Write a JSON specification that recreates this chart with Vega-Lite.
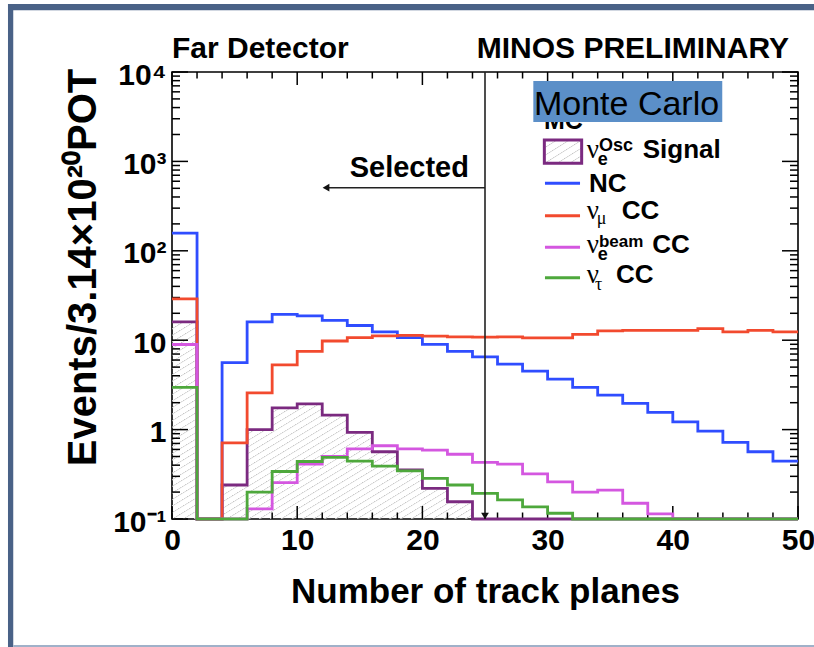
{
  "$schema": "https://vega.github.io/schema/vega-lite/v6.json",
  "width": 626,
  "height": 447,
  "autosize": "none",
  "padding": {"left": 172, "top": 72, "right": 16, "bottom": 128},
  "background": "white",
  "config": {
    "font": "Liberation Sans",
    "view": {"stroke": "#000", "strokeWidth": 1.6}
  },
  "resolve": {"axis": {"x": "independent", "y": "independent"}},
  "datasets": {
    "signal": [
      {"x": 0, "v": 16}, {"x": 2, "v": 0.1}, {"x": 4, "v": 0.24}, {"x": 6, "v": 1.0},
      {"x": 8, "v": 1.75}, {"x": 10, "v": 1.94}, {"x": 12, "v": 1.45}, {"x": 14, "v": 0.93},
      {"x": 16, "v": 0.565}, {"x": 18, "v": 0.355}, {"x": 20, "v": 0.22}, {"x": 22, "v": 0.156},
      {"x": 24, "v": 0.1}, {"x": 26, "v": 0.1}, {"x": 28, "v": 0.1}, {"x": 30, "v": 0.1},
      {"x": 32, "v": 0.1}, {"x": 34, "v": 0.1}, {"x": 36, "v": 0.1}, {"x": 38, "v": 0.1},
      {"x": 40, "v": 0.1}, {"x": 42, "v": 0.1}, {"x": 44, "v": 0.1}, {"x": 46, "v": 0.1},
      {"x": 48, "v": 0.1}, {"x": 50, "v": 0.1}
    ],
    "nc": [
      {"x": 0, "v": 158}, {"x": 2, "v": 0.1}, {"x": 4, "v": 5.6}, {"x": 6, "v": 16.0},
      {"x": 8, "v": 19.4}, {"x": 10, "v": 18.7}, {"x": 12, "v": 16.7}, {"x": 14, "v": 14.6},
      {"x": 16, "v": 12.4}, {"x": 18, "v": 10.7}, {"x": 20, "v": 9.0}, {"x": 22, "v": 7.5},
      {"x": 24, "v": 6.5}, {"x": 26, "v": 5.4}, {"x": 28, "v": 4.5}, {"x": 30, "v": 3.67},
      {"x": 32, "v": 2.96}, {"x": 34, "v": 2.43}, {"x": 36, "v": 1.96}, {"x": 38, "v": 1.56},
      {"x": 40, "v": 1.22}, {"x": 42, "v": 0.96}, {"x": 44, "v": 0.72}, {"x": 46, "v": 0.565},
      {"x": 48, "v": 0.445}, {"x": 50, "v": 0.445}
    ],
    "numu_cc": [
      {"x": 0, "v": 29}, {"x": 2, "v": 0.1}, {"x": 4, "v": 0.71}, {"x": 6, "v": 2.58},
      {"x": 8, "v": 5.3}, {"x": 10, "v": 7.5}, {"x": 12, "v": 9.8}, {"x": 14, "v": 10.7},
      {"x": 16, "v": 11.2}, {"x": 18, "v": 11.3}, {"x": 20, "v": 11.1}, {"x": 22, "v": 10.9},
      {"x": 24, "v": 10.8}, {"x": 26, "v": 10.9}, {"x": 28, "v": 10.6}, {"x": 30, "v": 10.6},
      {"x": 32, "v": 11.6}, {"x": 34, "v": 12.7}, {"x": 36, "v": 12.9}, {"x": 38, "v": 12.9},
      {"x": 40, "v": 12.9}, {"x": 42, "v": 13.5}, {"x": 44, "v": 12.4}, {"x": 46, "v": 12.9},
      {"x": 48, "v": 12.4}, {"x": 50, "v": 12.4}
    ],
    "nue_beam_cc": [
      {"x": 0, "v": 8.95}, {"x": 2, "v": 0.1}, {"x": 4, "v": 0.1}, {"x": 6, "v": 0.13},
      {"x": 8, "v": 0.255}, {"x": 10, "v": 0.41}, {"x": 12, "v": 0.5}, {"x": 14, "v": 0.61},
      {"x": 16, "v": 0.66}, {"x": 18, "v": 0.61}, {"x": 20, "v": 0.59}, {"x": 22, "v": 0.53},
      {"x": 24, "v": 0.43}, {"x": 26, "v": 0.41}, {"x": 28, "v": 0.32}, {"x": 30, "v": 0.26},
      {"x": 32, "v": 0.2}, {"x": 34, "v": 0.21}, {"x": 36, "v": 0.15}, {"x": 38, "v": 0.114},
      {"x": 40, "v": 0.1}, {"x": 42, "v": 0.1}, {"x": 44, "v": 0.1}, {"x": 46, "v": 0.1},
      {"x": 48, "v": 0.1}, {"x": 50, "v": 0.1}
    ],
    "nutau_cc": [
      {"x": 0, "v": 2.96}, {"x": 2, "v": 0.1}, {"x": 4, "v": 0.1}, {"x": 6, "v": 0.2},
      {"x": 8, "v": 0.34}, {"x": 10, "v": 0.44}, {"x": 12, "v": 0.49}, {"x": 14, "v": 0.445},
      {"x": 16, "v": 0.39}, {"x": 18, "v": 0.345}, {"x": 20, "v": 0.285}, {"x": 22, "v": 0.24},
      {"x": 24, "v": 0.193}, {"x": 26, "v": 0.164}, {"x": 28, "v": 0.137}, {"x": 30, "v": 0.116},
      {"x": 32, "v": 0.1}, {"x": 34, "v": 0.1}, {"x": 36, "v": 0.1}, {"x": 38, "v": 0.1},
      {"x": 40, "v": 0.1}, {"x": 42, "v": 0.1}, {"x": 44, "v": 0.1}, {"x": 46, "v": 0.1},
      {"x": 48, "v": 0.1}, {"x": 50, "v": 0.1}
    ],
    "planes_major": [{"x": 0}, {"x": 10}, {"x": 20}, {"x": 30}, {"x": 40}, {"x": 50}],
    "planes_minor": [
      {"x": 2}, {"x": 4}, {"x": 6}, {"x": 8}, {"x": 12}, {"x": 14}, {"x": 16}, {"x": 18},
      {"x": 22}, {"x": 24}, {"x": 26}, {"x": 28}, {"x": 32}, {"x": 34}, {"x": 36}, {"x": 38},
      {"x": 42}, {"x": 44}, {"x": 46}, {"x": 48}
    ],
    "events_major": [{"v": 0.1}, {"v": 1}, {"v": 10}, {"v": 100}, {"v": 1000}, {"v": 10000}],
    "events_minor": [
      {"v": 0.2}, {"v": 0.3}, {"v": 0.4}, {"v": 0.5}, {"v": 0.6}, {"v": 0.7}, {"v": 0.8}, {"v": 0.9},
      {"v": 2}, {"v": 3}, {"v": 4}, {"v": 5}, {"v": 6}, {"v": 7}, {"v": 8}, {"v": 9},
      {"v": 20}, {"v": 30}, {"v": 40}, {"v": 50}, {"v": 60}, {"v": 70}, {"v": 80}, {"v": 90},
      {"v": 200}, {"v": 300}, {"v": 400}, {"v": 500}, {"v": 600}, {"v": 700}, {"v": 800}, {"v": 900},
      {"v": 2000}, {"v": 3000}, {"v": 4000}, {"v": 5000}, {"v": 6000}, {"v": 7000}, {"v": 8000}, {"v": 9000}
    ]
  },
  "layer": [
    {
      "description": "Hatched fill under the oscillated nu_e signal; this layer also carries the axis labels and titles",
      "data": {"name": "signal"},
      "transform": [{"filter": "datum.x <= 26"}],
      "mark": {
        "type": "area",
        "interpolate": "step-after",
        "fill": {
          "gradient": "linear", "x1": 0, "y1": 0, "x2": 1, "y2": 1,
          "stops": [
            {"offset": 0, "color": "#c4c4c4"}, {"offset": 0.004, "color": "rgba(255,255,255,0)"}, {"offset": 0.0155, "color": "rgba(255,255,255,0)"},
            {"offset": 0.0167, "color": "#c4c4c4"}, {"offset": 0.0207, "color": "rgba(255,255,255,0)"}, {"offset": 0.0322, "color": "rgba(255,255,255,0)"},
            {"offset": 0.0333, "color": "#c4c4c4"}, {"offset": 0.0373, "color": "rgba(255,255,255,0)"}, {"offset": 0.0488, "color": "rgba(255,255,255,0)"},
            {"offset": 0.05, "color": "#c4c4c4"}, {"offset": 0.054, "color": "rgba(255,255,255,0)"}, {"offset": 0.0655, "color": "rgba(255,255,255,0)"},
            {"offset": 0.0667, "color": "#c4c4c4"}, {"offset": 0.0707, "color": "rgba(255,255,255,0)"}, {"offset": 0.0822, "color": "rgba(255,255,255,0)"},
            {"offset": 0.0833, "color": "#c4c4c4"}, {"offset": 0.0873, "color": "rgba(255,255,255,0)"}, {"offset": 0.0988, "color": "rgba(255,255,255,0)"},
            {"offset": 0.1, "color": "#c4c4c4"}, {"offset": 0.104, "color": "rgba(255,255,255,0)"}, {"offset": 0.1155, "color": "rgba(255,255,255,0)"},
            {"offset": 0.1167, "color": "#c4c4c4"}, {"offset": 0.1207, "color": "rgba(255,255,255,0)"}, {"offset": 0.1322, "color": "rgba(255,255,255,0)"},
            {"offset": 0.1333, "color": "#c4c4c4"}, {"offset": 0.1373, "color": "rgba(255,255,255,0)"}, {"offset": 0.1488, "color": "rgba(255,255,255,0)"},
            {"offset": 0.15, "color": "#c4c4c4"}, {"offset": 0.154, "color": "rgba(255,255,255,0)"}, {"offset": 0.1655, "color": "rgba(255,255,255,0)"},
            {"offset": 0.1667, "color": "#c4c4c4"}, {"offset": 0.1707, "color": "rgba(255,255,255,0)"}, {"offset": 0.1822, "color": "rgba(255,255,255,0)"},
            {"offset": 0.1833, "color": "#c4c4c4"}, {"offset": 0.1873, "color": "rgba(255,255,255,0)"}, {"offset": 0.1988, "color": "rgba(255,255,255,0)"},
            {"offset": 0.2, "color": "#c4c4c4"}, {"offset": 0.204, "color": "rgba(255,255,255,0)"}, {"offset": 0.2155, "color": "rgba(255,255,255,0)"},
            {"offset": 0.2167, "color": "#c4c4c4"}, {"offset": 0.2207, "color": "rgba(255,255,255,0)"}, {"offset": 0.2322, "color": "rgba(255,255,255,0)"},
            {"offset": 0.2333, "color": "#c4c4c4"}, {"offset": 0.2373, "color": "rgba(255,255,255,0)"}, {"offset": 0.2488, "color": "rgba(255,255,255,0)"},
            {"offset": 0.25, "color": "#c4c4c4"}, {"offset": 0.254, "color": "rgba(255,255,255,0)"}, {"offset": 0.2655, "color": "rgba(255,255,255,0)"},
            {"offset": 0.2667, "color": "#c4c4c4"}, {"offset": 0.2707, "color": "rgba(255,255,255,0)"}, {"offset": 0.2822, "color": "rgba(255,255,255,0)"},
            {"offset": 0.2833, "color": "#c4c4c4"}, {"offset": 0.2873, "color": "rgba(255,255,255,0)"}, {"offset": 0.2988, "color": "rgba(255,255,255,0)"},
            {"offset": 0.3, "color": "#c4c4c4"}, {"offset": 0.304, "color": "rgba(255,255,255,0)"}, {"offset": 0.3155, "color": "rgba(255,255,255,0)"},
            {"offset": 0.3167, "color": "#c4c4c4"}, {"offset": 0.3207, "color": "rgba(255,255,255,0)"}, {"offset": 0.3322, "color": "rgba(255,255,255,0)"},
            {"offset": 0.3333, "color": "#c4c4c4"}, {"offset": 0.3373, "color": "rgba(255,255,255,0)"}, {"offset": 0.3488, "color": "rgba(255,255,255,0)"},
            {"offset": 0.35, "color": "#c4c4c4"}, {"offset": 0.354, "color": "rgba(255,255,255,0)"}, {"offset": 0.3655, "color": "rgba(255,255,255,0)"},
            {"offset": 0.3667, "color": "#c4c4c4"}, {"offset": 0.3707, "color": "rgba(255,255,255,0)"}, {"offset": 0.3822, "color": "rgba(255,255,255,0)"},
            {"offset": 0.3833, "color": "#c4c4c4"}, {"offset": 0.3873, "color": "rgba(255,255,255,0)"}, {"offset": 0.3988, "color": "rgba(255,255,255,0)"},
            {"offset": 0.4, "color": "#c4c4c4"}, {"offset": 0.404, "color": "rgba(255,255,255,0)"}, {"offset": 0.4155, "color": "rgba(255,255,255,0)"},
            {"offset": 0.4167, "color": "#c4c4c4"}, {"offset": 0.4207, "color": "rgba(255,255,255,0)"}, {"offset": 0.4322, "color": "rgba(255,255,255,0)"},
            {"offset": 0.4333, "color": "#c4c4c4"}, {"offset": 0.4373, "color": "rgba(255,255,255,0)"}, {"offset": 0.4488, "color": "rgba(255,255,255,0)"},
            {"offset": 0.45, "color": "#c4c4c4"}, {"offset": 0.454, "color": "rgba(255,255,255,0)"}, {"offset": 0.4655, "color": "rgba(255,255,255,0)"},
            {"offset": 0.4667, "color": "#c4c4c4"}, {"offset": 0.4707, "color": "rgba(255,255,255,0)"}, {"offset": 0.4822, "color": "rgba(255,255,255,0)"},
            {"offset": 0.4833, "color": "#c4c4c4"}, {"offset": 0.4873, "color": "rgba(255,255,255,0)"}, {"offset": 0.4988, "color": "rgba(255,255,255,0)"},
            {"offset": 0.5, "color": "#c4c4c4"}, {"offset": 0.504, "color": "rgba(255,255,255,0)"}, {"offset": 0.5155, "color": "rgba(255,255,255,0)"},
            {"offset": 0.5167, "color": "#c4c4c4"}, {"offset": 0.5207, "color": "rgba(255,255,255,0)"}, {"offset": 0.5322, "color": "rgba(255,255,255,0)"},
            {"offset": 0.5333, "color": "#c4c4c4"}, {"offset": 0.5373, "color": "rgba(255,255,255,0)"}, {"offset": 0.5488, "color": "rgba(255,255,255,0)"},
            {"offset": 0.55, "color": "#c4c4c4"}, {"offset": 0.554, "color": "rgba(255,255,255,0)"}, {"offset": 0.5655, "color": "rgba(255,255,255,0)"},
            {"offset": 0.5667, "color": "#c4c4c4"}, {"offset": 0.5707, "color": "rgba(255,255,255,0)"}, {"offset": 0.5822, "color": "rgba(255,255,255,0)"},
            {"offset": 0.5833, "color": "#c4c4c4"}, {"offset": 0.5873, "color": "rgba(255,255,255,0)"}, {"offset": 0.5988, "color": "rgba(255,255,255,0)"},
            {"offset": 0.6, "color": "#c4c4c4"}, {"offset": 0.604, "color": "rgba(255,255,255,0)"}, {"offset": 0.6155, "color": "rgba(255,255,255,0)"},
            {"offset": 0.6167, "color": "#c4c4c4"}, {"offset": 0.6207, "color": "rgba(255,255,255,0)"}, {"offset": 0.6322, "color": "rgba(255,255,255,0)"},
            {"offset": 0.6333, "color": "#c4c4c4"}, {"offset": 0.6373, "color": "rgba(255,255,255,0)"}, {"offset": 0.6488, "color": "rgba(255,255,255,0)"},
            {"offset": 0.65, "color": "#c4c4c4"}, {"offset": 0.654, "color": "rgba(255,255,255,0)"}, {"offset": 0.6655, "color": "rgba(255,255,255,0)"},
            {"offset": 0.6667, "color": "#c4c4c4"}, {"offset": 0.6707, "color": "rgba(255,255,255,0)"}, {"offset": 0.6822, "color": "rgba(255,255,255,0)"},
            {"offset": 0.6833, "color": "#c4c4c4"}, {"offset": 0.6873, "color": "rgba(255,255,255,0)"}, {"offset": 0.6988, "color": "rgba(255,255,255,0)"},
            {"offset": 0.7, "color": "#c4c4c4"}, {"offset": 0.704, "color": "rgba(255,255,255,0)"}, {"offset": 0.7155, "color": "rgba(255,255,255,0)"},
            {"offset": 0.7167, "color": "#c4c4c4"}, {"offset": 0.7207, "color": "rgba(255,255,255,0)"}, {"offset": 0.7322, "color": "rgba(255,255,255,0)"},
            {"offset": 0.7333, "color": "#c4c4c4"}, {"offset": 0.7373, "color": "rgba(255,255,255,0)"}, {"offset": 0.7488, "color": "rgba(255,255,255,0)"},
            {"offset": 0.75, "color": "#c4c4c4"}, {"offset": 0.754, "color": "rgba(255,255,255,0)"}, {"offset": 0.7655, "color": "rgba(255,255,255,0)"},
            {"offset": 0.7667, "color": "#c4c4c4"}, {"offset": 0.7707, "color": "rgba(255,255,255,0)"}, {"offset": 0.7822, "color": "rgba(255,255,255,0)"},
            {"offset": 0.7833, "color": "#c4c4c4"}, {"offset": 0.7873, "color": "rgba(255,255,255,0)"}, {"offset": 0.7988, "color": "rgba(255,255,255,0)"},
            {"offset": 0.8, "color": "#c4c4c4"}, {"offset": 0.804, "color": "rgba(255,255,255,0)"}, {"offset": 0.8155, "color": "rgba(255,255,255,0)"},
            {"offset": 0.8167, "color": "#c4c4c4"}, {"offset": 0.8207, "color": "rgba(255,255,255,0)"}, {"offset": 0.8322, "color": "rgba(255,255,255,0)"},
            {"offset": 0.8333, "color": "#c4c4c4"}, {"offset": 0.8373, "color": "rgba(255,255,255,0)"}, {"offset": 0.8488, "color": "rgba(255,255,255,0)"},
            {"offset": 0.85, "color": "#c4c4c4"}, {"offset": 0.854, "color": "rgba(255,255,255,0)"}, {"offset": 0.8655, "color": "rgba(255,255,255,0)"},
            {"offset": 0.8667, "color": "#c4c4c4"}, {"offset": 0.8707, "color": "rgba(255,255,255,0)"}, {"offset": 0.8822, "color": "rgba(255,255,255,0)"},
            {"offset": 0.8833, "color": "#c4c4c4"}, {"offset": 0.8873, "color": "rgba(255,255,255,0)"}, {"offset": 0.8988, "color": "rgba(255,255,255,0)"},
            {"offset": 0.9, "color": "#c4c4c4"}, {"offset": 0.904, "color": "rgba(255,255,255,0)"}, {"offset": 0.9155, "color": "rgba(255,255,255,0)"},
            {"offset": 0.9167, "color": "#c4c4c4"}, {"offset": 0.9207, "color": "rgba(255,255,255,0)"}, {"offset": 0.9322, "color": "rgba(255,255,255,0)"},
            {"offset": 0.9333, "color": "#c4c4c4"}, {"offset": 0.9373, "color": "rgba(255,255,255,0)"}, {"offset": 0.9488, "color": "rgba(255,255,255,0)"},
            {"offset": 0.95, "color": "#c4c4c4"}, {"offset": 0.954, "color": "rgba(255,255,255,0)"}, {"offset": 0.9655, "color": "rgba(255,255,255,0)"},
            {"offset": 0.9667, "color": "#c4c4c4"}, {"offset": 0.9707, "color": "rgba(255,255,255,0)"}, {"offset": 0.9822, "color": "rgba(255,255,255,0)"},
            {"offset": 0.9833, "color": "#c4c4c4"}, {"offset": 0.9873, "color": "rgba(255,255,255,0)"}, {"offset": 1, "color": "rgba(255,255,255,0)"}
          ]
        }
      },
      "encoding": {
        "x": {
          "field": "x", "type": "quantitative",
          "scale": {"domain": [0, 50], "nice": false, "zero": false},
          "axis": {
            "values": [0, 10, 20, 30, 40, 50],
            "domain": false, "ticks": false, "grid": false,
            "labelFont": "Liberation Sans", "labelFontSize": 30, "labelFontWeight": "bold", "labelColor": "#000",
            "labelPadding": 6, "labelFlush": false, "labelOverlap": false, "labelBound": false,
            "title": "Number of track planes",
            "titleFont": "Liberation Sans", "titleFontSize": 35, "titleFontWeight": "bold", "titleColor": "#000",
            "titleY": 83, "titleBaseline": "alphabetic"
          }
        },
        "y": {
          "field": "v", "type": "quantitative",
          "scale": {"type": "log", "domain": [0.1, 10000], "nice": false},
          "axis": {
            "values": [0.1, 1, 10, 100, 1000, 10000],
            "labelExpr": "datum.value === 0.1 ? '10⁻¹' : datum.value === 1 ? '1' : datum.value === 10 ? '10' : datum.value === 100 ? '10²' : datum.value === 1000 ? '10³' : '10⁴'",
            "domain": false, "ticks": false, "grid": false,
            "labelFont": "Liberation Sans", "labelFontSize": 30, "labelFontWeight": "bold", "labelColor": "#000",
            "labelPadding": 6, "labelOffset": 3, "labelFlush": false, "labelOverlap": false, "labelBound": false,
            "title": "Events/3.14×10²⁰POT",
            "titleFont": "Liberation Sans", "titleFontSize": 40, "titleFontWeight": "bold", "titleColor": "#000",
            "titleAngle": 270, "titleX": -77, "titleY": 195, "titleAlign": "center", "titleBaseline": "alphabetic"
          }
        },
        "y2": {"datum": 0.1}
      }
    },
    {
      "description": "Inward major ticks along the bottom edge",
      "data": {"name": "planes_major"},
      "mark": {"type": "rule", "color": "#000", "strokeWidth": 1.5, "clip": false},
      "encoding": {
        "x": {"field": "x", "type": "quantitative", "axis": null},
        "y": {"datum": 0.1, "type": "quantitative", "axis": null},
        "y2": {"datum": 0.1397}
      }
    },
    {
      "description": "Inward minor ticks along the bottom edge",
      "data": {"name": "planes_minor"},
      "mark": {"type": "rule", "color": "#000", "strokeWidth": 1.5, "clip": false},
      "encoding": {
        "x": {"field": "x", "type": "quantitative", "axis": null},
        "y": {"datum": 0.1, "type": "quantitative", "axis": null},
        "y2": {"datum": 0.1182}
      }
    },
    {
      "description": "Inward major ticks along the top edge",
      "data": {"name": "planes_major"},
      "mark": {"type": "rule", "color": "#000", "strokeWidth": 1.5, "clip": false},
      "encoding": {
        "x": {"field": "x", "type": "quantitative", "axis": null},
        "y": {"datum": 7155, "type": "quantitative", "axis": null},
        "y2": {"datum": 10000}
      }
    },
    {
      "description": "Inward minor ticks along the top edge",
      "data": {"name": "planes_minor"},
      "mark": {"type": "rule", "color": "#000", "strokeWidth": 1.5, "clip": false},
      "encoding": {
        "x": {"field": "x", "type": "quantitative", "axis": null},
        "y": {"datum": 8458, "type": "quantitative", "axis": null},
        "y2": {"datum": 10000}
      }
    },
    {
      "description": "Inward decade ticks along the left edge",
      "data": {"name": "events_major"},
      "mark": {"type": "rule", "color": "#000", "strokeWidth": 1.5, "clip": false},
      "encoding": {
        "x": {"datum": 0, "type": "quantitative", "axis": null},
        "x2": {"datum": 1.28},
        "y": {"field": "v", "type": "quantitative", "axis": null}
      }
    },
    {
      "description": "Inward sub-decade ticks along the left edge",
      "data": {"name": "events_minor"},
      "mark": {"type": "rule", "color": "#000", "strokeWidth": 1.5, "clip": false},
      "encoding": {
        "x": {"datum": 0, "type": "quantitative", "axis": null},
        "x2": {"datum": 0.64},
        "y": {"field": "v", "type": "quantitative", "axis": null}
      }
    },
    {
      "description": "Inward decade ticks along the right edge",
      "data": {"name": "events_major"},
      "mark": {"type": "rule", "color": "#000", "strokeWidth": 1.5, "clip": false},
      "encoding": {
        "x": {"datum": 48.72, "type": "quantitative", "axis": null},
        "x2": {"datum": 50},
        "y": {"field": "v", "type": "quantitative", "axis": null}
      }
    },
    {
      "description": "Inward sub-decade ticks along the right edge",
      "data": {"name": "events_minor"},
      "mark": {"type": "rule", "color": "#000", "strokeWidth": 1.5, "clip": false},
      "encoding": {
        "x": {"datum": 49.36, "type": "quantitative", "axis": null},
        "x2": {"datum": 50},
        "y": {"field": "v", "type": "quantitative", "axis": null}
      }
    },
    {
      "description": "Slide frame: left bar",
      "data": {"values": [{}]},
      "mark": {"type": "rect", "color": "#4a6287"},
      "encoding": {
        "x": {"datum": -13.1, "type": "quantitative", "axis": null},
        "x2": {"datum": -12.68},
        "y": {"datum": 0.0037, "type": "quantitative", "axis": null},
        "y2": {"datum": 57500}
      }
    },
    {
      "description": "Slide frame: top bar",
      "data": {"values": [{}]},
      "mark": {"type": "rect", "color": "#4a6287"},
      "encoding": {
        "x": {"datum": -13.1, "type": "quantitative", "axis": null},
        "x2": {"datum": 51.5},
        "y": {"datum": 49000, "type": "quantitative", "axis": null},
        "y2": {"datum": 57500}
      }
    },
    {
      "description": "Slide frame: bottom line",
      "data": {"values": [{}]},
      "mark": {"type": "rect", "color": "#a0b1c9"},
      "encoding": {
        "x": {"datum": -12.68, "type": "quantitative", "axis": null},
        "x2": {"datum": 51.5},
        "y": {"datum": 0.0037, "type": "quantitative", "axis": null},
        "y2": {"datum": 0.0039}
      }
    },
    {
      "data": {"name": "signal"},
      "mark": {"type": "line", "interpolate": "step-after", "color": "#7b2a80", "strokeWidth": 2.8},
      "encoding": {
        "x": {"field": "x", "type": "quantitative", "axis": null},
        "y": {"field": "v", "type": "quantitative", "axis": null}
      }
    },
    {
      "data": {"name": "nc"},
      "mark": {"type": "line", "interpolate": "step-after", "color": "#2f4dff", "strokeWidth": 2.8},
      "encoding": {
        "x": {"field": "x", "type": "quantitative", "axis": null},
        "y": {"field": "v", "type": "quantitative", "axis": null}
      }
    },
    {
      "data": {"name": "numu_cc"},
      "mark": {"type": "line", "interpolate": "step-after", "color": "#f24a2e", "strokeWidth": 2.8},
      "encoding": {
        "x": {"field": "x", "type": "quantitative", "axis": null},
        "y": {"field": "v", "type": "quantitative", "axis": null}
      }
    },
    {
      "data": {"name": "nue_beam_cc"},
      "mark": {"type": "line", "interpolate": "step-after", "color": "#d457e0", "strokeWidth": 2.8},
      "encoding": {
        "x": {"field": "x", "type": "quantitative", "axis": null},
        "y": {"field": "v", "type": "quantitative", "axis": null}
      }
    },
    {
      "data": {"name": "nutau_cc"},
      "mark": {"type": "line", "interpolate": "step-after", "color": "#4ea83c", "strokeWidth": 2.8},
      "encoding": {
        "x": {"field": "x", "type": "quantitative", "axis": null},
        "y": {"field": "v", "type": "quantitative", "axis": null}
      }
    },
    {
      "description": "Selection cut at 25 planes",
      "data": {"values": [{}]},
      "mark": {"type": "rule", "color": "#222", "strokeWidth": 1.6},
      "encoding": {
        "x": {"datum": 25, "type": "quantitative", "axis": null},
        "y": {"datum": 0.1, "type": "quantitative", "axis": null},
        "y2": {"datum": 10000}
      }
    },
    {
      "data": {"values": [{}]},
      "mark": {"type": "point", "shape": "triangle-down", "filled": true, "color": "#111", "size": 60, "opacity": 1},
      "encoding": {
        "x": {"datum": 25, "type": "quantitative", "axis": null},
        "y": {"datum": 0.108, "type": "quantitative", "axis": null}
      }
    },
    {
      "data": {"values": [{}]},
      "mark": {"type": "rule", "color": "#222", "strokeWidth": 1.6},
      "encoding": {
        "x": {"datum": 12.3, "type": "quantitative", "axis": null},
        "x2": {"datum": 25},
        "y": {"datum": 508, "type": "quantitative", "axis": null}
      }
    },
    {
      "data": {"values": [{}]},
      "mark": {"type": "point", "shape": "triangle-left", "filled": true, "color": "#111", "size": 60, "opacity": 1},
      "encoding": {
        "x": {"datum": 12.3, "type": "quantitative", "axis": null},
        "y": {"datum": 508, "type": "quantitative", "axis": null}
      }
    },
    {
      "data": {"values": [{}]},
      "mark": {"type": "text", "text": "Selected", "font": "Liberation Sans", "fontWeight": "bold", "fontSize": 29, "align": "right", "baseline": "alphabetic", "color": "#000"},
      "encoding": {
        "x": {"datum": 23.72, "type": "quantitative", "axis": null},
        "y": {"datum": 670, "type": "quantitative", "axis": null}
      }
    },
    {
      "data": {"values": [{}]},
      "mark": {"type": "text", "text": "Far Detector", "font": "Liberation Sans", "fontWeight": "bold", "fontSize": 30, "align": "left", "baseline": "alphabetic", "color": "#000"},
      "encoding": {
        "x": {"datum": 0, "type": "quantitative", "axis": null},
        "y": {"datum": 14350, "type": "quantitative", "axis": null}
      }
    },
    {
      "data": {"values": [{}]},
      "mark": {"type": "text", "text": "MINOS PRELIMINARY", "font": "Liberation Sans", "fontWeight": "bold", "fontSize": 30, "align": "right", "baseline": "alphabetic", "color": "#000"},
      "encoding": {
        "x": {"datum": 49.28, "type": "quantitative", "axis": null},
        "y": {"datum": 14350, "type": "quantitative", "axis": null}
      }
    },
    {
      "description": "Legend header (partly covered by the label box)",
      "data": {"values": [{}]},
      "mark": {"type": "text", "text": "MC", "font": "Liberation Sans", "fontWeight": "bold", "fontSize": 25, "align": "left", "baseline": "alphabetic", "color": "#000"},
      "encoding": {
        "x": {"datum": 29.71, "type": "quantitative", "axis": null},
        "y": {"datum": 2301, "type": "quantitative", "axis": null}
      }
    },
    {
      "data": {"values": [{}]},
      "mark": {"type": "rect", "color": "#5b8fc8"},
      "encoding": {
        "x": {"datum": 28.86, "type": "quantitative", "axis": null},
        "x2": {"datum": 43.95},
        "y": {"datum": 2760, "type": "quantitative", "axis": null},
        "y2": {"datum": 7925}
      }
    },
    {
      "data": {"values": [{}]},
      "mark": {"type": "text", "text": "Monte Carlo", "font": "Liberation Sans", "fontSize": 34, "align": "left", "baseline": "alphabetic", "color": "#000"},
      "encoding": {
        "x": {"datum": 28.91, "type": "quantitative", "axis": null},
        "y": {"datum": 3304, "type": "quantitative", "axis": null}
      }
    },
    {
      "description": "Legend swatch for the signal",
      "data": {"values": [{}]},
      "mark": {
        "type": "rect", "stroke": "#7b2a80", "strokeWidth": 3,
        "fill": {
          "gradient": "linear", "x1": 0, "y1": 0, "x2": 1, "y2": 1,
          "stops": [
            {"offset": 0, "color": "#c4c4c4"}, {"offset": 0.03, "color": "rgba(255,255,255,0)"}, {"offset": 0.15, "color": "rgba(255,255,255,0)"},
            {"offset": 0.1667, "color": "#c4c4c4"}, {"offset": 0.1967, "color": "rgba(255,255,255,0)"}, {"offset": 0.3167, "color": "rgba(255,255,255,0)"},
            {"offset": 0.3333, "color": "#c4c4c4"}, {"offset": 0.3633, "color": "rgba(255,255,255,0)"}, {"offset": 0.4833, "color": "rgba(255,255,255,0)"},
            {"offset": 0.5, "color": "#c4c4c4"}, {"offset": 0.53, "color": "rgba(255,255,255,0)"}, {"offset": 0.65, "color": "rgba(255,255,255,0)"},
            {"offset": 0.6667, "color": "#c4c4c4"}, {"offset": 0.6967, "color": "rgba(255,255,255,0)"}, {"offset": 0.8167, "color": "rgba(255,255,255,0)"},
            {"offset": 0.8333, "color": "#c4c4c4"}, {"offset": 0.8633, "color": "rgba(255,255,255,0)"}, {"offset": 1, "color": "rgba(255,255,255,0)"}
          ]
        }
      },
      "encoding": {
        "x": {"datum": 29.74, "type": "quantitative", "axis": null},
        "x2": {"datum": 32.72},
        "y": {"datum": 952, "type": "quantitative", "axis": null},
        "y2": {"datum": 1735}
      }
    },
    {
      "data": {"values": [{}]},
      "mark": {"type": "rule", "color": "#2f4dff", "strokeWidth": 3},
      "encoding": {
        "x": {"datum": 29.79, "type": "quantitative", "axis": null},
        "x2": {"datum": 32.59},
        "y": {"datum": 569, "type": "quantitative", "axis": null}
      }
    },
    {
      "data": {"values": [{}]},
      "mark": {"type": "rule", "color": "#f24a2e", "strokeWidth": 3},
      "encoding": {
        "x": {"datum": 29.79, "type": "quantitative", "axis": null},
        "x2": {"datum": 32.59},
        "y": {"datum": 247, "type": "quantitative", "axis": null}
      }
    },
    {
      "data": {"values": [{}]},
      "mark": {"type": "rule", "color": "#d457e0", "strokeWidth": 3},
      "encoding": {
        "x": {"datum": 29.79, "type": "quantitative", "axis": null},
        "x2": {"datum": 32.59},
        "y": {"datum": 109.4, "type": "quantitative", "axis": null}
      }
    },
    {
      "data": {"values": [{}]},
      "mark": {"type": "rule", "color": "#4ea83c", "strokeWidth": 3},
      "encoding": {
        "x": {"datum": 29.79, "type": "quantitative", "axis": null},
        "x2": {"datum": 32.59},
        "y": {"datum": 50, "type": "quantitative", "axis": null}
      }
    },
    {
      "description": "Legend label: nu_e^Osc Signal",
      "data": {"values": [{}]},
      "mark": {"type": "text", "text": "ν", "font": "Liberation Serif", "fontSize": 27, "align": "left", "baseline": "alphabetic", "color": "#000"},
      "encoding": {
        "x": {"datum": 33.12, "type": "quantitative", "axis": null},
        "y": {"datum": 1084, "type": "quantitative", "axis": null}
      }
    },
    {
      "data": {"values": [{}]},
      "mark": {"type": "text", "text": "e", "font": "Liberation Sans", "fontWeight": "bold", "fontSize": 18, "align": "left", "baseline": "alphabetic", "dy": 7, "color": "#000"},
      "encoding": {
        "x": {"datum": 34.0, "type": "quantitative", "axis": null},
        "y": {"datum": 1084, "type": "quantitative", "axis": null}
      }
    },
    {
      "data": {"values": [{}]},
      "mark": {"type": "text", "text": "Osc", "font": "Liberation Sans", "fontWeight": "bold", "fontSize": 18, "align": "left", "baseline": "alphabetic", "dy": -7, "color": "#000"},
      "encoding": {
        "x": {"datum": 34.1, "type": "quantitative", "axis": null},
        "y": {"datum": 1084, "type": "quantitative", "axis": null}
      }
    },
    {
      "data": {"values": [{}]},
      "mark": {"type": "text", "text": "Signal", "font": "Liberation Sans", "fontWeight": "bold", "fontSize": 26, "align": "left", "baseline": "alphabetic", "color": "#000"},
      "encoding": {
        "x": {"datum": 37.6, "type": "quantitative", "axis": null},
        "y": {"datum": 1084, "type": "quantitative", "axis": null}
      }
    },
    {
      "description": "Legend label: NC",
      "data": {"values": [{}]},
      "mark": {"type": "text", "text": "NC", "font": "Liberation Sans", "fontWeight": "bold", "fontSize": 26, "align": "left", "baseline": "alphabetic", "color": "#000"},
      "encoding": {
        "x": {"datum": 33.31, "type": "quantitative", "axis": null},
        "y": {"datum": 458, "type": "quantitative", "axis": null}
      }
    },
    {
      "description": "Legend label: nu_mu CC",
      "data": {"values": [{}]},
      "mark": {"type": "text", "text": "ν", "font": "Liberation Serif", "fontSize": 27, "align": "left", "baseline": "alphabetic", "color": "#000"},
      "encoding": {
        "x": {"datum": 33.12, "type": "quantitative", "axis": null},
        "y": {"datum": 227, "type": "quantitative", "axis": null}
      }
    },
    {
      "data": {"values": [{}]},
      "mark": {"type": "text", "text": "μ", "font": "Liberation Serif", "fontSize": 18, "align": "left", "baseline": "alphabetic", "dy": 5, "color": "#000"},
      "encoding": {
        "x": {"datum": 33.92, "type": "quantitative", "axis": null},
        "y": {"datum": 227, "type": "quantitative", "axis": null}
      }
    },
    {
      "data": {"values": [{}]},
      "mark": {"type": "text", "text": "CC", "font": "Liberation Sans", "fontWeight": "bold", "fontSize": 26, "align": "left", "baseline": "alphabetic", "color": "#000"},
      "encoding": {
        "x": {"datum": 35.92, "type": "quantitative", "axis": null},
        "y": {"datum": 227, "type": "quantitative", "axis": null}
      }
    },
    {
      "description": "Legend label: nu_e^beam CC",
      "data": {"values": [{}]},
      "mark": {"type": "text", "text": "ν", "font": "Liberation Serif", "fontSize": 27, "align": "left", "baseline": "alphabetic", "color": "#000"},
      "encoding": {
        "x": {"datum": 33.12, "type": "quantitative", "axis": null},
        "y": {"datum": 95.3, "type": "quantitative", "axis": null}
      }
    },
    {
      "data": {"values": [{}]},
      "mark": {"type": "text", "text": "e", "font": "Liberation Sans", "fontWeight": "bold", "fontSize": 18, "align": "left", "baseline": "alphabetic", "dy": 7, "color": "#000"},
      "encoding": {
        "x": {"datum": 34.0, "type": "quantitative", "axis": null},
        "y": {"datum": 95.3, "type": "quantitative", "axis": null}
      }
    },
    {
      "data": {"values": [{}]},
      "mark": {"type": "text", "text": "beam", "font": "Liberation Sans", "fontWeight": "bold", "fontSize": 17, "align": "left", "baseline": "alphabetic", "dy": -6, "color": "#000"},
      "encoding": {
        "x": {"datum": 34.1, "type": "quantitative", "axis": null},
        "y": {"datum": 95.3, "type": "quantitative", "axis": null}
      }
    },
    {
      "data": {"values": [{}]},
      "mark": {"type": "text", "text": "CC", "font": "Liberation Sans", "fontWeight": "bold", "fontSize": 26, "align": "left", "baseline": "alphabetic", "color": "#000"},
      "encoding": {
        "x": {"datum": 38.35, "type": "quantitative", "axis": null},
        "y": {"datum": 95.3, "type": "quantitative", "axis": null}
      }
    },
    {
      "description": "Legend label: nu_tau CC",
      "data": {"values": [{}]},
      "mark": {"type": "text", "text": "ν", "font": "Liberation Serif", "fontSize": 27, "align": "left", "baseline": "alphabetic", "color": "#000"},
      "encoding": {
        "x": {"datum": 33.12, "type": "quantitative", "axis": null},
        "y": {"datum": 43.3, "type": "quantitative", "axis": null}
      }
    },
    {
      "data": {"values": [{}]},
      "mark": {"type": "text", "text": "τ", "font": "Liberation Serif", "fontSize": 18, "align": "left", "baseline": "alphabetic", "dy": 7, "color": "#000"},
      "encoding": {
        "x": {"datum": 33.79, "type": "quantitative", "axis": null},
        "y": {"datum": 43.3, "type": "quantitative", "axis": null}
      }
    },
    {
      "data": {"values": [{}]},
      "mark": {"type": "text", "text": "CC", "font": "Liberation Sans", "fontWeight": "bold", "fontSize": 26, "align": "left", "baseline": "alphabetic", "color": "#000"},
      "encoding": {
        "x": {"datum": 35.46, "type": "quantitative", "axis": null},
        "y": {"datum": 43.3, "type": "quantitative", "axis": null}
      }
    }
  ]
}
